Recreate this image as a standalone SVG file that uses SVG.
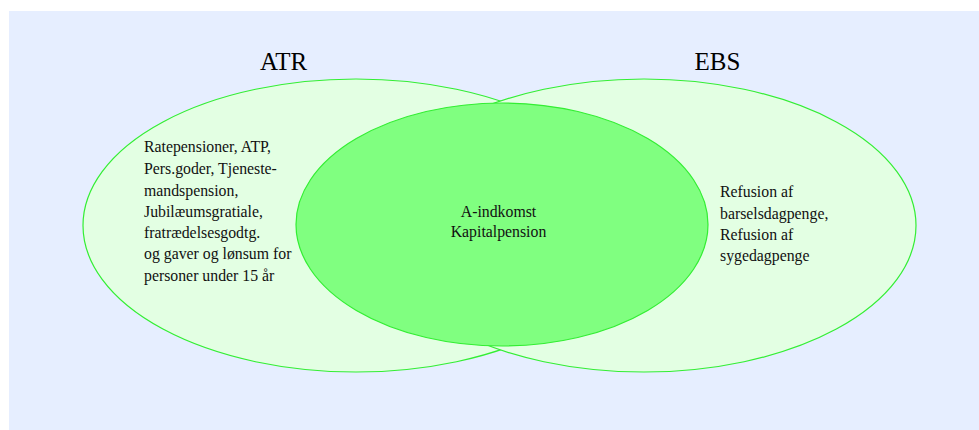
<svg xmlns="http://www.w3.org/2000/svg" width="979" height="430" viewBox="0 0 979 430">
<style>
.set{fill:#e3ffe3;stroke:#33ee33;stroke-width:1.2}
.core{fill:#80ff80;stroke:#33ee33;stroke-width:1.2}
.t{font-family:"Liberation Serif","Times New Roman",serif;font-size:15.8px;fill:#111}
.h{font-family:"Liberation Serif","Times New Roman",serif;font-size:25px;fill:#000;text-anchor:middle}
.c{text-anchor:middle}
</style>
<rect x="9" y="11" width="970" height="419" fill="#e6eeff"/>
<g id="atr">
<ellipse class="set" cx="356" cy="225.5" rx="273" ry="146.5"/>
<text class="h" x="283.5" y="70">ATR</text>
</g>
<g id="ebs">
<ellipse class="set" cx="644" cy="225.5" rx="272" ry="146.5"/>
<text class="h" x="717.5" y="70">EBS</text>
</g>
<g id="atr-text">
<text class="t" x="144" y="152">Ratepensioner, ATP,</text>
<text class="t" x="144" y="174">Pers.goder, Tjeneste-</text>
<text class="t" x="144" y="196">mandspension,</text>
<text class="t" x="144" y="217">Jubilæumsgratiale,</text>
<text class="t" x="144" y="238">fratrædelsesgodtg.</text>
<text class="t" x="144" y="259">og gaver og lønsum for</text>
<text class="t" x="144" y="281">personer under 15 år</text>
</g>
<g id="common">
<ellipse class="core" cx="502" cy="224.5" rx="206" ry="121.5"/>
<text class="t c" x="498.5" y="217">A-indkomst</text>
<text class="t c" x="498.5" y="237">Kapitalpension</text>
</g>
<g id="ebs-text">
<text class="t" x="720" y="197">Refusion af</text>
<text class="t" x="720" y="219">barselsdagpenge,</text>
<text class="t" x="720" y="240">Refusion af</text>
<text class="t" x="720" y="261">sygedagpenge</text>
</g>
<g id="connectors"></g>
</svg>
